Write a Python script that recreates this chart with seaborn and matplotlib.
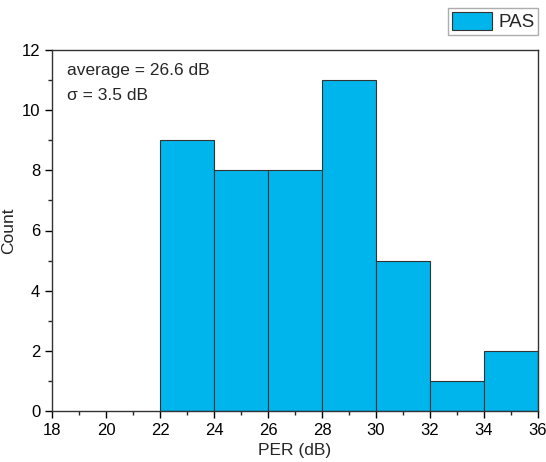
import matplotlib
matplotlib.use("Agg")
import matplotlib.pyplot as plt
import seaborn as sns
import numpy as np
from matplotlib.ticker import MultipleLocator
from matplotlib.patches import Patch

bin_edges = [22, 24, 26, 28, 30, 32, 34, 36]
counts = [9, 8, 8, 11, 5, 1, 2]
bin_centers = [23, 25, 27, 29, 31, 33, 35]
series_label = "PAS"
stats_text = ["average = 26.6 dB", "σ = 3.5 dB"]

sns.set_style("ticks")
plt.rcParams['font.family'] = ['Liberation Sans', 'DejaVu Sans']

fig = plt.figure(figsize=(5.46, 4.62), dpi=100)
ax = fig.add_axes([52/546, 51/462, (538-52)/546, (411-50)/462])

color = "#00B5EB"
sns.histplot(x=bin_centers, weights=counts, bins=bin_edges, ax=ax,
             color=color, alpha=1, edgecolor="#333333", linewidth=0.8)

ax.set_xlim(18, 36)
ax.set_ylim(0, 12)
ax.xaxis.set_major_locator(MultipleLocator(2))
ax.xaxis.set_minor_locator(MultipleLocator(1))
ax.yaxis.set_major_locator(MultipleLocator(2))
ax.yaxis.set_minor_locator(MultipleLocator(1))
ax.tick_params(which="major", direction="out", length=5, width=1, labelsize=12, colors="black")
ax.tick_params(which="minor", direction="out", length=3, width=1)
for s in ax.spines.values():
    s.set_visible(True)
    s.set_color("#333333")
    s.set_linewidth(1)

ax.set_xlabel("PER (dB)", fontsize=12.5)
ax.set_ylabel("Count", fontsize=12.5)

ax.text(0.03, 0.965, stats_text[0], transform=ax.transAxes, fontsize=12.5, va="top", ha="left")
ax.text(0.03, 0.895, stats_text[1], transform=ax.transAxes, fontsize=12.5, va="top", ha="left")

handle = Patch(facecolor=color, edgecolor="#333333", linewidth=0.8, label=series_label)
fig.legend(handles=[handle], loc="upper right", bbox_to_anchor=(538/546, 1 - 8/462),
           fontsize=13.5, frameon=True, fancybox=False, edgecolor="#999999",
           handlelength=2.15, handleheight=1.1, borderpad=0.2, handletextpad=0.3,
           borderaxespad=0)

fig.savefig("out.png", dpi=100)
